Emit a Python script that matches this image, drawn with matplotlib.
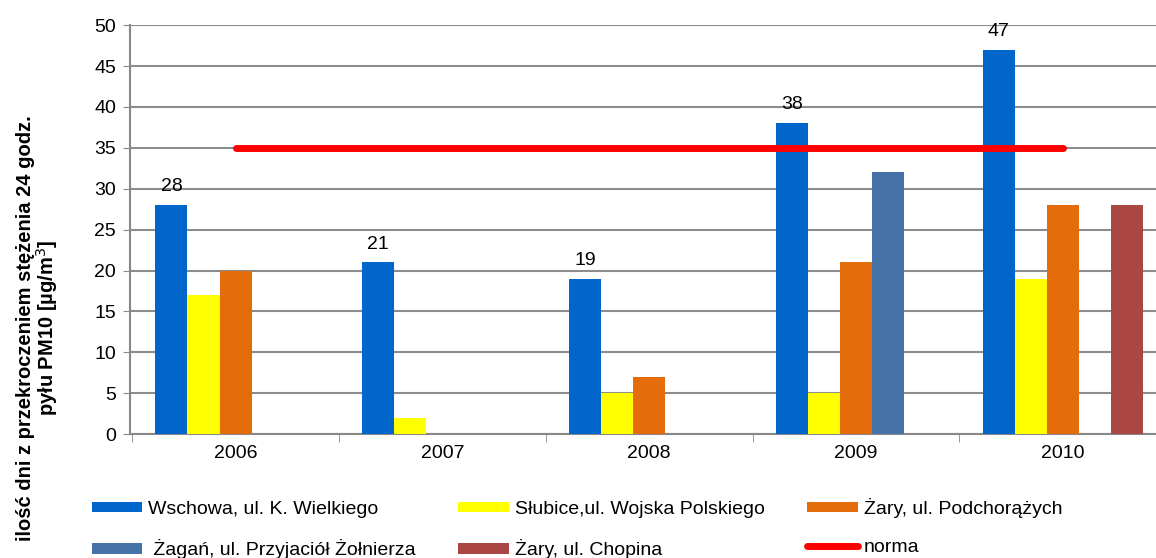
import matplotlib
matplotlib.use('Agg')
import matplotlib.pyplot as plt
import numpy as np

### data
years = ['2006', '2007', '2008', '2009', '2010']
series_names = ['Wschowa, ul. K. Wielkiego',
                'Słubice,ul. Wojska Polskiego',
                'Żary, ul. Podchorążych',
                ' Żagań, ul. Przyjaciół Żołnierza',
                'Żary, ul. Chopina']
wschowa = [28, 21, 19, 38, 47]
slubice = [17, 2, 5, 5, 19]
zary_pod = [20, 0, 7, 21, 28]
zagan = [0, 0, 0, 32, 0]
zary_chop = [0, 0, 0, 0, 28]
norma = [35, 35, 35, 35, 35]
colors = ['#0066CC', '#FFFF00', '#E46C0A', '#4572A7', '#AA4643']

plt.rcParams['font.family'] = ['Liberation Sans', 'DejaVu Sans']

fig = plt.figure(figsize=(11.56, 5.58), dpi=100)
ax = fig.add_axes([0.1125, 0.222, 0.8875, 0.733])

x = np.arange(len(years))
w = 0.155
vals = [wschowa, slubice, zary_pod, zagan, zary_chop]
for k, v in enumerate(vals):
    ax.bar(x + (k - 2) * w, v, width=w, color=colors[k], label=series_names[k], zorder=3)

for i, v in enumerate(wschowa):
    ax.text(x[i] - 2 * w, v + 1.2, str(v), ha='center', va='bottom', fontsize=14)

ax.plot(x, norma, color='#FF0000', lw=5, solid_capstyle='round', label='norma', zorder=4)

ax.set_xlim(-0.51, 4.45)
ax.set_ylim(0, 50)
ax.set_yticks(np.arange(0, 51, 5))
ax.tick_params(axis='y', labelsize=14, length=5, color='#888888', pad=5)
ax.set_xticks(x)
ax.set_xticklabels(years)
ax.tick_params(axis='x', which='major', length=0, labelsize=14, pad=8)
ax.set_xticks(np.arange(-0.5, 4.5, 1), minor=True)
ax.tick_params(axis='x', which='minor', length=6, color='#888888')
ax.grid(axis='y', color='#8c8c8c', lw=1.5, zorder=0)
for s in ['top', 'right']:
    ax.spines[s].set_visible(False)
for s in ['left', 'bottom']:
    ax.spines[s].set_color('#888888')
    ax.spines[s].set_linewidth(1.5)

fig.text(38 / 1156, 1 - 328 / 558,
         'ilość dni z przekroczeniem stężenia 24 godz.\npyłu PM10 [µg/m$^3$]',
         rotation=90, ha='center', va='center', ma='center',
         fontsize=14.5, fontweight='bold', linespacing=1.0)

h, l = ax.get_legend_handles_labels()
# h = [norma, bars...]; column-wise fill to get rows W,S,ZP / Zg,ZC,norma
order = [1, 4, 2, 5, 3, 0]
leg = ax.legend([h[i] for i in order], [l[i] for i in order], ncol=3,
                loc='upper left', bbox_to_anchor=(-0.045, -0.137), frameon=False,
                fontsize=14, handlelength=2.6, handleheight=0.45, columnspacing=2.2,
                handletextpad=0.3, labelspacing=1.1, borderaxespad=0)

fig.savefig('out.png', dpi=100)
